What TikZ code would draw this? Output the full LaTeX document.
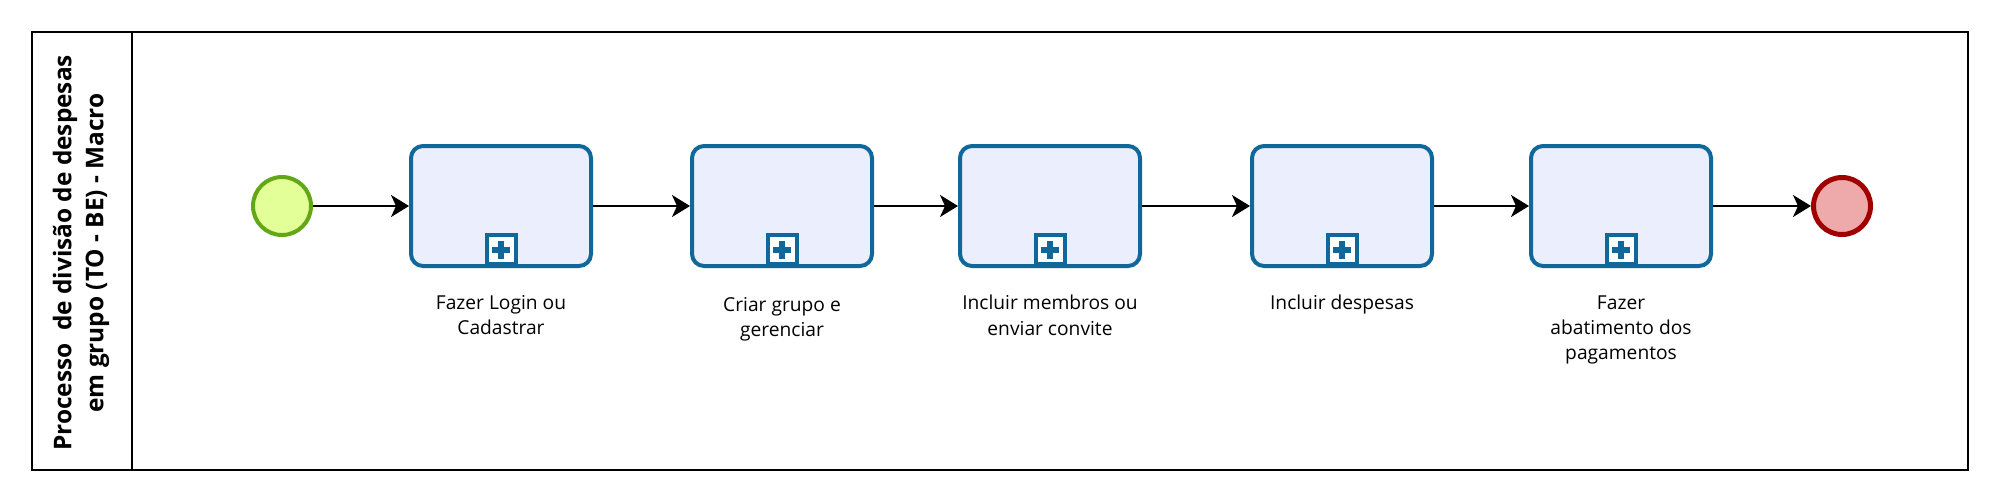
\documentclass[tikz,border=0pt]{standalone}
\usepackage{fontspec}
\setmainfont{Open Sans}
\usetikzlibrary{arrows.meta}
\definecolor{taskfill}{HTML}{EBEFFD}
\definecolor{taskline}{HTML}{10689A}
\definecolor{startfill}{HTML}{E3FF97}
\definecolor{startline}{HTML}{62A716}
\definecolor{endfill}{HTML}{EEAAAA}
\definecolor{endline}{HTML}{A00000}
\tikzset{
  task/.style={draw=taskline, fill=taskfill, line width=2pt, rounded corners=6pt, minimum width=90pt, minimum height=60pt, inner sep=0pt},
  startev/.style={circle, draw=startline, fill=startfill, line width=2pt, minimum size=29pt, inner sep=0pt},
  endev/.style={circle, draw=endline, fill=endfill, line width=2.5pt, minimum size=28.5pt, inner sep=0pt},
  flow/.style={line width=1pt, -{Stealth[length=9pt, width=11pt, inset=2.5pt]}},
  lbl/.style={align=center, font=\fontsize{9.6}{12.7}\selectfont, inner sep=0pt, anchor=north},
  plusbox/.style={draw=taskline, fill=white, line width=2pt, minimum size=14.5pt, inner sep=0pt},
}
\begin{document}
\begin{tikzpicture}[x=0.5pt, y=-0.5pt]
\useasboundingbox (0,0) rectangle (2000,493);
% pool
\draw[line width=1pt] (32,32) rectangle (1968,470);
\draw[line width=1pt] (132,32) -- (132,470);
\node[rotate=90, align=center, font=\bfseries\fontsize{12.2}{16}\selectfont, inner sep=0pt] (pool) at (81,253) {Processo \ de divisão de despesas\\em grupo (TO - BE) - Macro};
% events
\node[startev] (s) at (282,206) {};
\node[endev] (e) at (1842,206) {};
% tasks
\foreach \n/\x in {t1/501, t2/782, t3/1050, t4/1342, t5/1621}{
  \node[task] (\n) at (\x,206) {};
  \node[plusbox, anchor=south] (\n p) at ([yshift=1pt]\n.south) {};
  \fill[taskline] ([xshift=-1.5pt,yshift=-4.5pt]\n p.center) rectangle ([xshift=1.5pt,yshift=4.5pt]\n p.center);
  \fill[taskline] ([xshift=-4.5pt,yshift=-1.5pt]\n p.center) rectangle ([xshift=4.5pt,yshift=1.5pt]\n p.center);
}
% labels
\node[lbl] (l1) at (501,295) {Fazer Login ou\\Cadastrar};
\node[lbl] (l2) at (782,297) {Criar grupo e\\gerenciar};
\node[lbl] (l3) at (1050,295) {Incluir membros ou\\enviar convite};
\node[lbl] (l4) at (1342,295) {Incluir despesas};
\node[lbl] (l5) at (1621,295) {Fazer\\abatimento dos\\pagamentos};
% flows
\draw[flow] (s) -- (t1);
\draw[flow] (t1) -- (t2);
\draw[flow] (t2) -- (t3);
\draw[flow] (t3) -- (t4);
\draw[flow] (t4) -- (t5);
\draw[flow] (t5) -- (e);
\end{tikzpicture}
\end{document}
